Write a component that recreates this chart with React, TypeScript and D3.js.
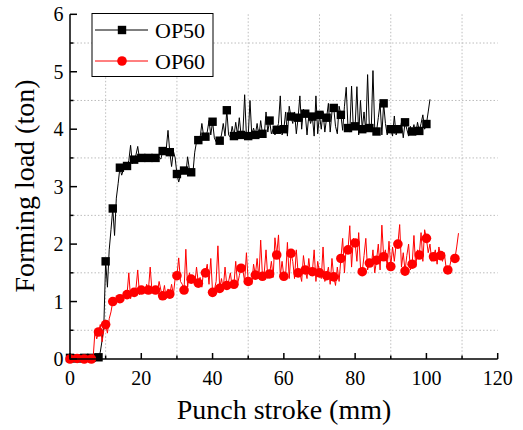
import React from "react";
import * as d3 from "d3";

const STROKE_STEP = 0.5; // mm between samples
const MARKER_EVERY = 4;

const seriesNames = ["OP50", "OP60"];
const seriesColors = ["#000000", "#ff0000"];

// Forming load (ton), one value every 0.5 mm of punch stroke, rows start at even mm
const op50Load = [
  0.02, 0.01, 0.02, 0.02,
  0.01, 0.02, 0.02, 0.01,
  0.02, 0.02, 0.01, 0.02,
  0.02, 0.01, 0.02, 0.02,
  0.03, 0.12, 0.32, 0.6,
  1.7, 1.25, 1.9, 2.25,
  2.62, 2.15, 2.8, 3.05,
  3.33, 3.2, 3.3, 3.4,
  3.36, 3.45, 3.72, 3.4,
  3.47, 3.55, 3.7, 3.48,
  3.5, 3.47, 3.5, 3.46,
  3.5, 3.52, 3.48, 3.5,
  3.5, 3.47, 3.51, 3.48,
  3.62, 3.58, 3.65, 3.98,
  3.6, 3.35, 3.62, 3.5,
  3.22, 3.08, 3.2, 3.28,
  3.28, 3.22, 3.52, 3.3,
  3.25, 3.25, 3.6, 3.78,
  3.81, 3.85, 4.1, 3.88,
  3.87, 3.95, 4.15, 3.9,
  4.13, 3.85, 3.78, 3.82,
  3.8, 3.9, 4.1, 3.88,
  4.33, 3.9, 3.86, 4.05,
  3.88, 4.12, 3.9, 4.2,
  3.9, 3.92, 4.6, 3.88,
  3.88, 4.5, 3.9, 4.02,
  3.9, 4.1, 3.87, 4.15,
  3.92, 3.88, 4.3, 3.95,
  4.15, 3.92, 4.0, 3.9,
  3.99, 4.1, 4.58, 3.9,
  4.0, 4.3, 3.88, 4.4,
  4.22, 4.1, 4.3, 3.92,
  4.2, 4.58, 4.0, 4.35,
  4.27, 3.9, 4.25, 4.1,
  4.22, 3.88, 4.58, 3.92,
  4.25, 4.0, 4.3, 3.95,
  4.2, 4.45, 3.95, 4.3,
  4.37, 4.05, 3.92, 4.4,
  4.25, 3.98, 4.4, 4.73,
  4.02, 3.95, 4.75, 4.0,
  4.05, 4.74, 3.9, 4.5,
  4.0, 4.3, 3.95, 4.95,
  4.02, 3.95, 5.02, 4.0,
  3.96, 4.2, 4.45, 3.9,
  4.45, 4.1, 3.9, 4.05,
  4.0, 3.88, 4.23, 3.9,
  4.0, 3.95, 4.12, 3.85,
  4.12, 4.0, 3.88, 4.05,
  3.96, 4.08, 3.9, 4.12,
  3.97, 4.1, 4.25, 4.0,
  4.09, 4.3, 4.52,
];

const op60Load = [
  0.0, 0.01, 0.0, 0.0,
  0.01, 0.0, 0.0, 0.01,
  0.0, 0.0, 0.01, 0.0,
  0.0, 0.02, 0.48, 0.35,
  0.47, 0.6, 0.3, 0.5,
  0.6, 0.45, 0.7, 0.82,
  1.0, 0.95, 1.02, 1.08,
  1.05, 0.98, 1.1, 1.08,
  1.12, 1.5, 1.05, 1.18,
  1.16, 1.22, 1.55, 1.12,
  1.2, 1.25, 1.15, 1.3,
  1.2, 1.6, 1.18, 1.25,
  1.2, 1.15, 1.35, 1.2,
  1.1, 1.28, 1.05, 1.22,
  1.13, 1.3, 1.12, 1.4,
  1.45, 1.76, 1.35, 1.3,
  1.2, 1.91, 1.25, 1.5,
  1.39, 1.45, 1.3, 1.6,
  1.32, 1.42, 1.25, 1.55,
  1.5, 1.65, 1.3, 1.75,
  1.16, 1.2, 1.35, 1.97,
  1.23, 1.4, 1.22, 1.6,
  1.28, 1.35, 1.5, 1.25,
  1.3, 1.7, 1.3, 1.45,
  1.58, 1.55, 1.35, 1.85,
  1.35, 1.4, 1.3, 1.65,
  1.46, 1.75, 1.4, 2.07,
  1.44, 1.5, 1.9, 1.4,
  1.48, 1.7, 1.42, 2.11,
  1.81, 2.16, 1.45, 1.7,
  1.44, 1.45, 2.03, 1.4,
  1.84, 1.7, 1.4, 1.9,
  1.5, 1.5, 1.35, 1.8,
  1.55, 1.4, 1.75, 1.45,
  1.52, 1.9, 1.35, 1.7,
  1.5, 1.4, 1.95, 1.35,
  1.45, 1.6, 1.3, 1.75,
  1.43, 1.28, 1.6, 1.35,
  1.75, 2.1, 1.5, 1.95,
  1.9, 2.32, 1.6, 2.1,
  2.02, 1.7, 2.2, 1.6,
  1.52, 1.8, 2.1, 1.55,
  1.67, 1.6, 1.9, 1.5,
  1.72, 2.0, 1.55, 2.33,
  1.78, 1.9, 1.6, 2.05,
  1.61, 1.95, 1.7, 2.0,
  2.0, 2.34, 1.6, 1.85,
  1.53, 1.8, 2.0, 1.55,
  1.65, 2.15, 1.6, 1.9,
  1.81, 2.2, 1.7, 2.25,
  2.1, 1.85, 2.0, 1.7,
  1.78, 1.9, 1.65, 1.95,
  1.8, 1.7, 1.85, 1.6,
  1.55, 1.6, 1.75, 1.7,
  1.75, 1.95, 2.19,
];

const xMajorTicks = [0, 20, 40, 60, 80, 100, 120];
const xMinorTicks = [10, 30, 50, 70, 90, 110];
const yMajorTicks = [0, 1, 2, 3, 4, 5, 6];
const yMinorTicks = [0.5, 1.5, 2.5, 3.5, 4.5, 5.5];

const xTitle = "Punch stroke (mm)";
const yTitle = "Forming load (ton)";

const FONT = "Liberation Serif, Times New Roman, serif";
const textStyle = { fontFamily: FONT };

export default function App() {
  const W = 523;
  const H = 430;
  const x = d3.scaleLinear().domain([0, 120]).range([70, 497.7]);
  const y = d3.scaleLinear().domain([0, 6]).range([359, 14.3]);

  const toPts = (arr: number[]) => arr.map((v, i) => [i * STROKE_STEP, v] as [number, number]);
  const series = [toPts(op50Load), toPts(op60Load)];
  const line = d3
    .line<[number, number]>()
    .x((d) => x(d[0]))
    .y((d) => y(d[1]));

  const marker = (s: number, cx: number, cy: number, key: string | number) =>
    s === 0 ? (
      <rect key={key} x={cx - 4.2} y={cy - 4.2} width={8.4} height={8.4} fill="#000" />
    ) : (
      <circle key={key} cx={cx} cy={cy} r={4.8} fill="#ff0000" />
    );

  return (
    <svg
      width={W}
      height={H}
      style={{ position: "absolute", left: 0, top: 0, background: "#fff" }}
    >
      {/* grid */}
      <g stroke="#bdbdbd" strokeWidth={1} strokeDasharray="1.5,2">
        {xMinorTicks.map((t) => (
          <line key={"gx" + t} x1={x(t)} x2={x(t)} y1={y(6)} y2={y(0)} />
        ))}
        {yMinorTicks.map((t) => (
          <line key={"gy" + t} x1={x(0)} x2={x(120)} y1={y(t)} y2={y(t)} />
        ))}
      </g>

      {/* data */}
      {series.map((pts, s) => (
        <g key={"s" + s}>
          <path d={line(pts) || ""} fill="none" stroke={seriesColors[s]} strokeWidth={1} strokeLinejoin="round" />
          {pts
            .filter((_, i) => i % MARKER_EVERY === 0)
            .map((p, i) => marker(s, x(p[0]), y(p[1]), i))}
        </g>
      ))}

      {/* axes */}
      <g stroke="#000" strokeWidth={1.5}>
        <line x1={x(0)} x2={x(0)} y1={y(0) + 0.75} y2={y(6)} />
        <line x1={x(0)} x2={x(120)} y1={y(0)} y2={y(0)} />
        {xMajorTicks.map((t) => (
          <line key={"xt" + t} x1={x(t)} x2={x(t)} y1={y(0)} y2={y(0) - 6} />
        ))}
        {xMinorTicks.map((t) => (
          <line key={"xm" + t} x1={x(t)} x2={x(t)} y1={y(0)} y2={y(0) - 3.5} />
        ))}
        {yMajorTicks.map((t) => (
          <line key={"yt" + t} x1={x(0)} x2={x(0) + 7} y1={y(t)} y2={y(t)} />
        ))}
        {yMinorTicks.map((t) => (
          <line key={"ym" + t} x1={x(0)} x2={x(0) + 3.5} y1={y(t)} y2={y(t)} />
        ))}
      </g>

      {/* tick labels */}
      <g fontSize={20} fill="#000">
        {xMajorTicks.map((t) => (
          <text key={"xl" + t} x={x(t)} y={385} textAnchor="middle" style={textStyle}>
            {t}
          </text>
        ))}
        {yMajorTicks.map((t) => (
          <text key={"yl" + t} x={63.5} y={y(t) + 7} textAnchor="end" style={textStyle}>
            {t}
          </text>
        ))}
      </g>

      {/* titles */}
      <text x={284} y={419} fontSize={28} textAnchor="middle" fill="#000" style={textStyle}>
        {xTitle}
      </text>
      <text
        transform={`translate(34, 186) rotate(-90)`}
        fontSize={28}
        textAnchor="middle"
        fill="#000"
        style={textStyle}
      >
        {yTitle}
      </text>

      {/* legend */}
      <rect x={92} y={13.5} width={121} height={63} fill="#fff" stroke="#000" strokeWidth={1} />
      {seriesNames.map((name, s) => {
        const ly = s === 0 ? 30 : 61;
        return (
          <g key={"lg" + s}>
            <line x1={95} x2={148} y1={ly} y2={ly} stroke={seriesColors[s]} strokeWidth={1} />
            {marker(s, 122, ly, "lm" + s)}
            <text x={155} y={ly + 8} fontSize={22} fill="#000" style={textStyle}>
              {name}
            </text>
          </g>
        );
      })}
    </svg>
  );
}
